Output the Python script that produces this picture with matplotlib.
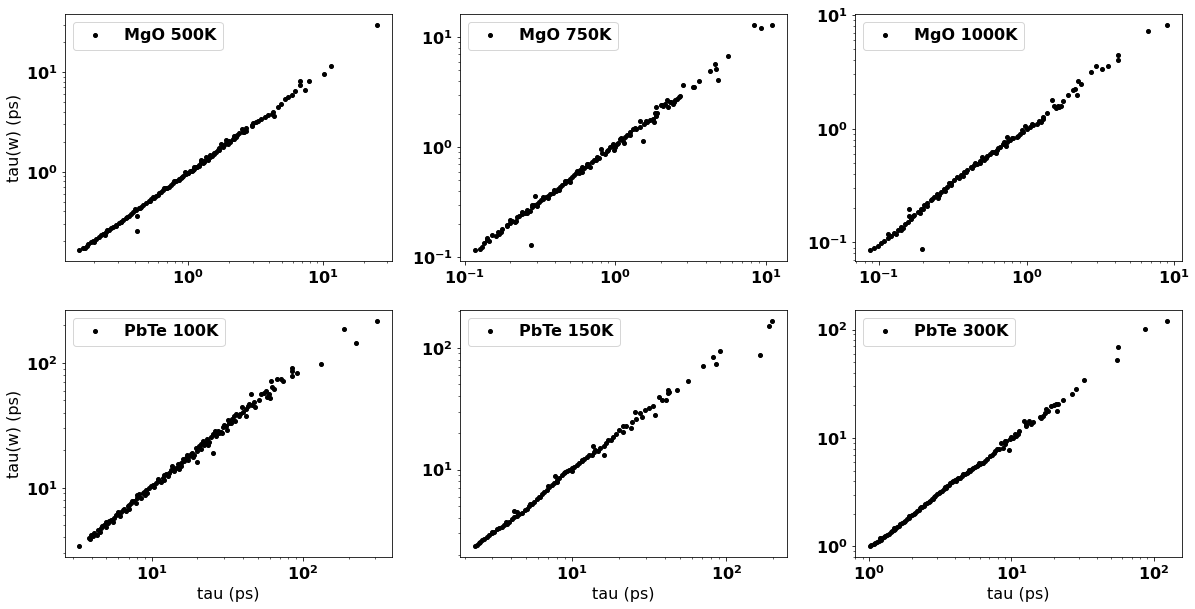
import matplotlib
matplotlib.use('Agg')
import matplotlib.pyplot as plt

# (tau, tau(w)) pairs, in ps
mgo_500k = [
    (0.156, 0.164), (0.165, 0.171), (0.173, 0.173), (0.177, 0.181), (0.182, 0.19), (0.19, 0.196),
    (0.198, 0.202), (0.207, 0.212), (0.217, 0.222), (0.226, 0.23), (0.235, 0.239), (0.246, 0.249),
    (0.257, 0.258), (0.268, 0.271), (0.278, 0.28), (0.291, 0.293), (0.305, 0.302), (0.317, 0.316),
    (0.33, 0.326), (0.346, 0.342), (0.361, 0.361), (0.376, 0.375), (0.39, 0.39), (0.41, 0.411),
    (0.428, 0.428), (0.446, 0.444), (0.464, 0.466), (0.486, 0.488), (0.508, 0.511), (0.529, 0.527),
    (0.551, 0.552), (0.576, 0.573), (0.603, 0.605), (0.627, 0.62), (0.653, 0.654), (0.683, 0.685),
    (0.715, 0.706), (0.744, 0.74), (0.774, 0.763), (0.81, 0.81), (0.848, 0.844), (0.88, 0.863),
    (0.918, 0.911), (0.96, 0.95), (0.99, 0.96), (1.03, 1.01), (1.06, 1.02), (1.11, 1.06),
    (1.14, 1.12), (1.17, 1.11), (1.21, 1.15), (1.24, 1.24), (1.28, 1.21), (1.31, 1.29),
    (1.35, 1.39), (1.39, 1.31), (1.45, 1.42), (1.51, 1.45), (1.56, 1.53), (1.6, 1.57),
    (1.65, 1.65), (1.7, 1.73), (1.75, 1.9), (1.8, 1.78), (1.92, 2.08), (1.96, 1.9),
    (2.01, 2.02), (2.13, 2.13), (2.19, 2.3), (2.28, 2.21), (2.39, 2.43), (2.5, 2.69),
    (2.6, 2.49), (2.67, 2.59), (2.7, 2.75), (2.96, 2.9), (2.99, 2.97), (3.17, 3.14),
    (3.45, 3.39), (3.71, 3.52), (3.93, 3.72), (4.16, 3.8), (4.33, 3.66), (4.26, 3.96),
    (4.66, 4.5), (4.86, 4.8), (5.18, 5.39), (5.47, 5.6), (5.85, 5.9), (6.17, 6.38),
    (6.75, 7.35), (6.8, 8.1), (7.4, 6.6), (7.8, 8.1), (10.2, 9.5), (11.5, 11.4),
    (25.0, 29.5), (0.42, 0.255), (0.42, 0.36),
    (0.2, 0.195), (0.24, 0.232), (0.29, 0.283), (0.35, 0.352), (0.44, 0.43), (0.52, 0.505),
    (0.6, 0.59), (0.7, 0.68), (0.79, 0.8), (0.9, 0.875), (1.0, 0.975), (1.1, 1.12),
    (1.2, 1.18), (1.3, 1.25), (1.45, 1.48), (1.55, 1.5), (1.7, 1.65), (1.85, 1.86),
    (2.05, 1.97), (2.3, 2.35), (2.55, 2.48), (3.0, 3.05), (3.3, 3.25),
    (0.25, 0.262), (0.32, 0.31), (0.4, 0.418), (0.56, 0.54), (0.66, 0.69), (0.85, 0.82),
    (0.95, 0.99), (1.08, 1.04), (1.25, 1.3), (1.4, 1.35), (1.9, 1.95), (2.2, 2.12),
]

mgo_750k = [
    (0.116, 0.116), (0.126, 0.118), (0.134, 0.133), (0.141, 0.143), (0.152, 0.157), (0.165, 0.168),
    (0.178, 0.18), (0.192, 0.197), (0.207, 0.214), (0.223, 0.23), (0.241, 0.247), (0.26, 0.268),
    (0.281, 0.284), (0.303, 0.304), (0.319, 0.327), (0.344, 0.35), (0.371, 0.375), (0.401, 0.403),
    (0.432, 0.432), (0.479, 0.497), (0.516, 0.532), (0.557, 0.604), (0.601, 0.657), (0.649, 0.68),
    (0.7, 0.73), (0.756, 0.81), (0.8, 0.966), (0.927, 1.0), (0.975, 0.933), (1.0, 1.0),
    (1.03, 1.07), (1.08, 1.19), (1.16, 1.23), (1.26, 1.37), (1.32, 1.47), (1.46, 1.54),
    (1.45, 1.75), (1.56, 1.63), (1.62, 1.69), (1.82, 1.69), (1.79, 1.81), (1.86, 1.94),
    (1.84, 2.04), (1.87, 2.32), (2.0, 2.4), (2.05, 2.43), (2.09, 2.35), (2.14, 2.48),
    (2.2, 2.67), (2.34, 2.57), (2.41, 2.48), (2.56, 2.74), (2.51, 2.67), (2.64, 2.86),
    (2.84, 3.7), (3.27, 3.52), (3.35, 3.57), (3.62, 3.97), (4.83, 4.06), (4.71, 5.18),
    (4.26, 4.9), (4.59, 5.75), (5.63, 6.76), (8.37, 12.9), (9.27, 12.2), (11.0, 12.9),
    (1.52, 1.13), (0.292, 0.362), (0.274, 0.129),
    (0.13, 0.124), (0.145, 0.14), (0.16, 0.155), (0.175, 0.17), (0.19, 0.19), (0.2, 0.205),
    (0.215, 0.21), (0.23, 0.236), (0.25, 0.25), (0.27, 0.262), (0.29, 0.3), (0.31, 0.315),
    (0.33, 0.335), (0.355, 0.36), (0.385, 0.385), (0.415, 0.42), (0.445, 0.455), (0.46, 0.475),
    (0.5, 0.51), (0.53, 0.555), (0.57, 0.585), (0.62, 0.64), (0.66, 0.71), (0.72, 0.76),
    (0.78, 0.8), (0.85, 0.87), (0.9, 0.95), (0.95, 1.02), (1.05, 1.1), (1.12, 1.15),
    (1.2, 1.28), (1.38, 1.45), (1.7, 1.78), (2.25, 2.3), (2.45, 2.6),
    (0.14, 0.15), (0.17, 0.162), (0.2, 0.215), (0.22, 0.212), (0.24, 0.258), (0.26, 0.252),
    (0.28, 0.3), (0.3, 0.29), (0.33, 0.35), (0.36, 0.345), (0.39, 0.41), (0.42, 0.405),
    (0.46, 0.49), (0.5, 0.48), (0.55, 0.58), (0.58, 0.62), (0.6, 0.6), (0.65, 0.7),
    (0.68, 0.66), (0.75, 0.76), (0.82, 0.88), (0.88, 0.92), (0.96, 1.08), (1.1, 1.2),
    (1.15, 1.1), (1.25, 1.3), (1.35, 1.5), (1.6, 1.75), (1.9, 2.05), (2.3, 2.6), (2.7, 2.9),
]

mgo_1000k = [
    (0.0865, 0.086), (0.0985, 0.094), (0.109, 0.1027), (0.121, 0.115), (0.134, 0.128), (0.149, 0.146),
    (0.165, 0.161), (0.183, 0.185), (0.202, 0.212), (0.224, 0.234), (0.249, 0.264), (0.276, 0.296),
    (0.306, 0.333), (0.339, 0.376), (0.376, 0.416), (0.417, 0.46), (0.462, 0.492), (0.512, 0.534),
    (0.568, 0.603), (0.629, 0.653), (0.697, 0.728), (0.773, 0.789), (0.857, 0.845), (0.95, 0.935),
    (1.05, 1.03), (1.17, 1.09), (1.29, 1.22),
    (0.092, 0.09), (0.104, 0.099), (0.115, 0.11), (0.127, 0.12), (0.141, 0.138), (0.157, 0.152),
    (0.174, 0.175), (0.192, 0.196), (0.213, 0.222), (0.236, 0.25), (0.262, 0.28), (0.29, 0.31),
    (0.322, 0.353), (0.357, 0.395), (0.396, 0.435), (0.44, 0.475), (0.487, 0.515), (0.54, 0.57),
    (0.6, 0.625), (0.66, 0.69), (0.735, 0.76), (0.81, 0.82), (0.9, 0.9), (1.0, 1.0),
    (1.1, 1.07), (1.22, 1.16),
    (0.13, 0.118), (0.145, 0.135), (0.17, 0.17), (0.19, 0.18), (0.21, 0.21), (0.23, 0.24),
    (0.255, 0.262), (0.28, 0.285), (0.31, 0.32), (0.35, 0.37), (0.39, 0.42), (0.43, 0.45),
    (0.48, 0.5), (0.53, 0.55), (0.58, 0.63), (0.64, 0.68), (0.72, 0.7), (0.8, 0.82),
    (0.88, 0.87), (0.98, 1.06), (1.08, 1.1), (1.25, 1.15),
    (1.38, 1.36), (1.29, 1.27), (1.49, 1.78), (1.53, 1.57), (1.59, 1.53), (1.63, 1.57),
    (1.67, 1.55), (1.72, 1.57), (1.76, 1.74), (1.9, 1.99), (2.06, 2.18), (2.14, 2.25),
    (2.2, 1.99), (2.22, 2.61), (2.34, 2.49), (2.73, 3.15), (2.95, 3.53), (3.24, 3.37),
    (3.57, 3.53), (4.17, 4.48), (4.17, 4.05), (6.62, 7.18), (8.93, 8.11),
    (0.195, 0.088), (0.159, 0.198), (0.734, 0.845),
    (0.115, 0.118), (0.14, 0.128), (0.16, 0.17), (0.2, 0.195), (0.25, 0.245), (0.3, 0.33),
    (0.37, 0.385), (0.45, 0.5), (0.5, 0.56), (0.62, 0.61), (0.7, 0.76), (0.93, 0.97),
]

pbte_100k = [
    (3.31, 3.41), (3.85, 3.98), (3.95, 4.16), (4.16, 4.37), (4.38, 4.59), (4.6, 4.79),
    (4.84, 5.0), (5.09, 5.25), (5.36, 5.51), (5.64, 5.76), (5.93, 6.12), (6.24, 6.39),
    (6.56, 6.71), (6.9, 7.14), (7.27, 7.49), (7.64, 7.82), (7.92, 8.32), (8.25, 8.84),
    (8.68, 9.12), (9.1, 9.58), (9.6, 10.0), (10.1, 10.6), (10.6, 10.96), (11.2, 11.3),
    (11.8, 12.0), (12.4, 12.8), (13.0, 13.2), (13.7, 14.0), (14.4, 14.5), (15.2, 14.9),
    (15.6, 15.9), (16.4, 16.3), (16.8, 17.4), (17.7, 17.9), (18.5, 19.1), (19.5, 20.9),
    (20.0, 19.6), (20.5, 21.5), (21.6, 23.6), (22.7, 22.9), (23.3, 24.4), (25.2, 26.7),
    (26.5, 25.9), (27.8, 27.5), (27.2, 28.4), (29.6, 30.6), (30.9, 31.1), (31.6, 29.0),
    (32.5, 33.1), (35.0, 37.4), (36.2, 38.6), (37.8, 37.4), (39.7, 44.5), (41.7, 42.4),
    (41.7, 37.4), (43.5, 45.0), (46.2, 45.6), (45.1, 55.8), (58.0, 53.5), (60.0, 52.5),
    (59.6, 55.8), (62.7, 64.3), (64.6, 62.0), (61.0, 72.0), (66.7, 74.0), (71.0, 74.0),
    (73.8, 71.3), (84.0, 86.0), (85.0, 91.0), (85.0, 79.0), (91.0, 83.0), (131.0, 98.0),
    (185.0, 185.0), (225.0, 145.0), (307.0, 215.0), (25.2, 18.8), (20.0, 16.0),
    (3.9, 3.9), (4.05, 4.1), (4.3, 4.2), (4.5, 4.45), (4.7, 4.95), (4.95, 4.85),
    (5.2, 5.45), (5.5, 5.3), (5.8, 6.0), (6.1, 5.9), (6.4, 6.65), (6.7, 6.5),
    (7.1, 7.3), (7.4, 7.8), (7.8, 7.6), (8.1, 8.5), (8.5, 8.3), (8.9, 9.3),
    (9.3, 9.0), (9.8, 10.3), (10.3, 10.2), (10.9, 11.4), (11.5, 11.1), (12.1, 12.6),
    (12.7, 12.3), (13.3, 13.8), (14.0, 13.6), (14.8, 15.4), (15.5, 14.8), (16.0, 16.9),
    (17.2, 16.6), (18.0, 18.6), (19.0, 18.1), (21.0, 20.5), (22.0, 21.8), (24.0, 23.2),
    (24.5, 25.5), (26.0, 27.5), (28.5, 28.0), (30.0, 32.0), (33.5, 33.0), (34.0, 35.5),
    (38.5, 39.0), (44.0, 46.5), (48.0, 44.0), (51.0, 50.0), (55.0, 57.0), (57.0, 60.0),
    (5.0, 5.3), (6.0, 6.4), (7.0, 6.8), (8.0, 8.7), (9.0, 8.7), (11.0, 11.8),
    (12.0, 11.5), (13.5, 14.8), (15.0, 14.2), (17.0, 18.4), (18.7, 17.6), (21.0, 22.5),
    (23.5, 22.0), (26.0, 28.5), (29.0, 27.5), (32.0, 35.0), (35.5, 34.0), (40.0, 40.5),
    (47.0, 48.5), (53.0, 56.0),
]

pbte_150k = [
    (2.32, 2.36), (2.47, 2.52), (2.59, 2.64), (2.79, 2.82), (3.01, 3.0), (3.24, 3.23),
    (3.49, 3.4), (3.77, 3.61), (4.06, 3.9), (4.37, 4.15), (4.16, 4.56), (4.71, 4.43),
    (5.08, 4.78), (5.47, 5.18), (5.9, 5.69), (6.36, 6.25), (6.85, 6.85), (7.37, 7.54),
    (7.95, 8.28), (7.76, 8.93), (8.57, 9.1), (9.24, 9.69), (9.95, 10.3), (10.7, 11.0),
    (11.6, 11.7), (12.4, 12.8), (13.4, 13.3), (14.8, 14.1), (13.7, 15.5), (16.0, 15.5),
    (16.0, 13.3), (17.2, 17.6), (18.5, 18.7), (21.5, 20.2), (20.0, 21.2), (21.5, 22.6),
    (24.0, 21.9), (24.4, 24.8), (25.6, 30.0), (28.3, 26.9), (27.6, 29.1), (29.8, 31.0),
    (31.3, 32.0), (33.7, 33.3), (34.6, 28.2), (40.5, 37.3), (38.5, 37.3), (36.7, 39.8),
    (41.7, 42.4), (41.7, 45.0), (42.5, 43.5), (47.8, 45.1), (56.9, 53.4), (70.2, 70.8),
    (86.0, 73.6), (82.7, 83.4), (91.4, 94.0), (166.0, 87.0), (190.0, 150.0), (198.0, 165.0),
    (2.4, 2.42), (2.53, 2.55), (2.68, 2.7), (2.9, 2.88), (3.12, 3.1), (3.35, 3.3),
    (3.6, 3.52), (3.9, 3.75), (4.2, 4.05), (4.5, 4.3), (4.9, 4.62), (5.25, 5.0),
    (5.65, 5.45), (6.1, 5.95), (6.6, 6.5), (7.1, 7.2), (7.6, 7.8), (8.2, 8.5),
    (8.9, 9.3), (9.6, 10.0), (10.3, 10.6), (11.1, 11.3), (12.0, 12.2), (12.9, 13.1),
    (13.9, 13.9), (15.2, 15.0), (17.8, 17.5), (19.2, 19.6), (22.5, 22.8), (26.0, 26.0),
    (3.0, 3.1), (3.7, 3.75), (4.4, 4.45), (5.3, 5.25), (6.2, 6.0), (7.0, 7.3),
    (8.0, 7.9), (9.0, 9.6), (10.0, 9.8), (11.5, 12.0), (14.0, 14.6), (16.5, 16.6),
]

pbte_300k = [
    (1.01, 1.01), (1.08, 1.05), (1.14, 1.09), (1.21, 1.15), (1.27, 1.21), (1.34, 1.27),
    (1.42, 1.35), (1.49, 1.42), (1.58, 1.5), (1.66, 1.61), (1.75, 1.69), (1.85, 1.78),
    (1.95, 1.89), (2.06, 1.98), (2.17, 2.13), (2.29, 2.24), (2.42, 2.37), (2.55, 2.54),
    (2.69, 2.63), (2.84, 2.83), (3.0, 3.03), (3.17, 3.18), (3.34, 3.37), (3.52, 3.62),
    (3.72, 3.88), (3.92, 4.02), (4.14, 4.16), (4.36, 4.32), (4.6, 4.63), (4.85, 4.79),
    (5.11, 4.97), (5.4, 5.33), (5.7, 5.53), (6.02, 5.73), (6.35, 5.94), (6.69, 6.36),
    (7.05, 6.84), (7.63, 7.59), (7.87, 7.86), (8.5, 8.93), (8.8, 8.15), (8.97, 8.76),
    (9.22, 9.4), (9.75, 9.7), (10.0, 10.2), (9.6, 7.7), (10.6, 10.8), (10.8, 10.4),
    (11.1, 11.0), (11.4, 11.6), (12.3, 14.3), (12.6, 12.9), (12.7, 13.6), (13.4, 14.3),
    (13.8, 13.6), (14.3, 14.0), (15.8, 15.7), (16.2, 15.2), (16.6, 15.9), (17.1, 17.1),
    (17.5, 18.4), (18.2, 17.7), (19.0, 19.7), (20.0, 20.0), (20.6, 20.4), (20.9, 17.9),
    (21.2, 20.4), (22.9, 22.4), (26.5, 25.2), (28.4, 28.4), (32.5, 34.0), (55.0, 52.0),
    (56.0, 69.0), (87.5, 101.0), (124.0, 119.0),
    (1.04, 1.03), (1.11, 1.08), (1.18, 1.13), (1.24, 1.19), (1.3, 1.26), (1.38, 1.3),
    (1.45, 1.4), (1.53, 1.46), (1.62, 1.55), (1.7, 1.66), (1.8, 1.73), (1.9, 1.84),
    (2.0, 1.95), (2.11, 2.05), (2.23, 2.18), (2.35, 2.31), (2.48, 2.45), (2.62, 2.58),
    (2.76, 2.74), (2.92, 2.92), (3.08, 3.1), (3.26, 3.27), (3.43, 3.5), (3.62, 3.72),
    (3.82, 3.93), (4.03, 4.1), (4.25, 4.24), (4.48, 4.48), (4.72, 4.7), (4.98, 4.9),
    (5.25, 5.15), (5.55, 5.45), (5.85, 5.65), (6.2, 5.9), (6.5, 6.2), (7.3, 7.0), (8.2, 8.0),
    (1.2, 1.19), (1.5, 1.47), (1.9, 1.9), (2.3, 2.3), (2.8, 2.75), (3.5, 3.48),
    (4.1, 3.98), (5.0, 5.05), (5.9, 5.85), (7.5, 7.2), (9.0, 9.3), (10.3, 9.9),
]

labels = ['MgO 500K', 'MgO 750K', 'MgO 1000K', 'PbTe 100K', 'PbTe 150K', 'PbTe 300K']
datasets = [mgo_500k, mgo_750k, mgo_1000k, pbte_100k, pbte_150k, pbte_300k]

matplotlib.rc('font', weight='bold', size=16)

fig, axes = plt.subplots(2, 3, figsize=(1195 / 72, 609 / 72), dpi=72)
for ax, label, pts in zip(axes.flat, labels, datasets):
    tau = [p[0] for p in pts]
    tau_w = [p[1] for p in pts]
    ax.loglog(tau, tau_w, '.', color='k', ms=8, label=label)
    ax.legend(loc='upper left')

for ax in axes[:, 0]:
    ax.set_ylabel('tau(w) (ps)', fontweight='normal')
for ax in axes[1, :]:
    ax.set_xlabel('tau (ps)', fontweight='normal')

fig.subplots_adjust(left=0.054, right=0.989, top=0.977, bottom=0.085,
                    wspace=0.208, hspace=0.198)
fig.savefig('out.png')
